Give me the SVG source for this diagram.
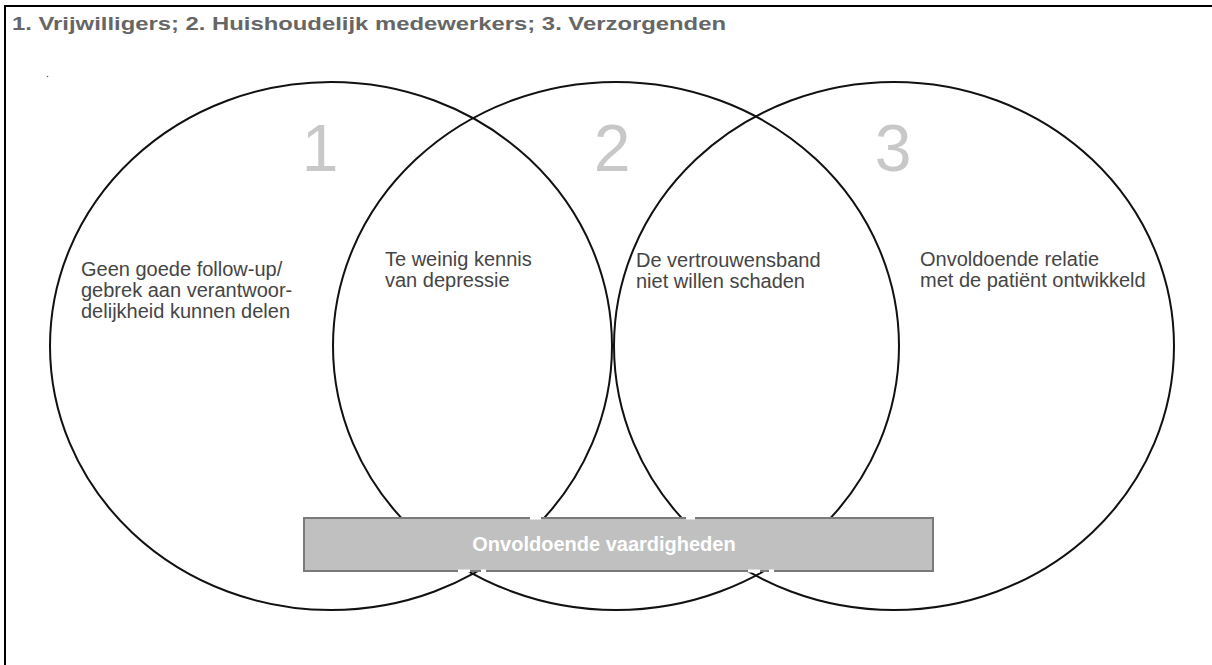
<svg xmlns="http://www.w3.org/2000/svg" width="1212" height="665" viewBox="0 0 1212 665">
<style>
.frame{fill:none;stroke:#000;stroke-width:2}
.title{font-family:"Liberation Sans",Arial,sans-serif;font-weight:bold;font-size:17.5px;fill:#666}
.ring{fill:none;stroke:#111;stroke-width:2}
.num{font-family:"Liberation Sans",Arial,sans-serif;font-size:66px;fill:#c8c8c8;text-anchor:middle}
.lbl{font-family:"Liberation Sans",Arial,sans-serif;font-size:20px;fill:#454545}
.bar{fill:#c0c0c0;stroke:#7a7a7a;stroke-width:2}
.barlbl{font-family:"Liberation Sans",Arial,sans-serif;font-weight:bold;font-size:20px;fill:#fff;text-anchor:middle}
.gap{stroke:#fff;stroke-width:3}
</style>
<rect width="1212" height="665" fill="#fff"/>
<path class="frame" d="M5,665 V6 H1212"/>
<text class="title" x="12" y="30" textLength="714" lengthAdjust="spacingAndGlyphs">1. Vrijwilligers; 2. Huishoudelijk medewerkers; 3. Verzorgenden</text>
<circle cx="47.5" cy="76.5" r="0.8" fill="#666"/>
<g id="connectors"></g>
<g id="circle1">
<ellipse class="ring" cx="331" cy="346" rx="281" ry="264"/>
<text class="num" x="320" y="171">1</text>
<text class="lbl"><tspan x="81" y="276">Geen goede follow-up/</tspan><tspan x="81" y="297">gebrek aan verantwoor-</tspan><tspan x="81" y="318">delijkheid kunnen delen</tspan></text>
</g>
<g id="circle2">
<ellipse class="ring" cx="616" cy="346" rx="283" ry="264"/>
<text class="num" x="612" y="171">2</text>
</g>
<g id="circle3">
<ellipse class="ring" cx="894" cy="346" rx="280" ry="264"/>
<text class="num" x="893" y="171">3</text>
<text class="lbl"><tspan x="920" y="266">Onvoldoende relatie</tspan><tspan x="920" y="287">met de patiënt ontwikkeld</tspan></text>
</g>
<g id="overlap12">
<text class="lbl"><tspan x="385" y="266">Te weinig kennis</tspan><tspan x="385" y="287">van depressie</tspan></text>
</g>
<g id="overlap23">
<text class="lbl"><tspan x="636" y="267">De vertrouwensband</tspan><tspan x="636" y="288">niet willen schaden</tspan></text>
</g>
<g id="bar">
<rect class="bar" x="304" y="518" width="629" height="53"/>
<path class="gap" d="M530,518 H541 M686,518 H695 M458,571 H470 M481,571 H486 M748,571 H760 M769,571 H774"/>
<text class="barlbl" x="604" y="551">Onvoldoende vaardigheden</text>
</g>
</svg>
